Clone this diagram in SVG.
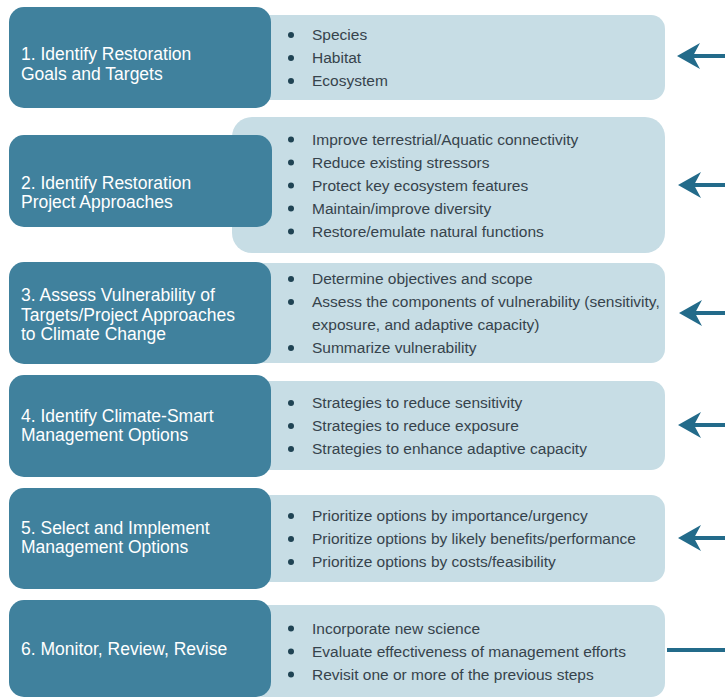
<svg xmlns="http://www.w3.org/2000/svg" width="725" height="700" viewBox="0 0 725 700">
<defs>
<style>
.dark{fill:#40819d}
.light{fill:#c7dde5}
.title{font-family:"Liberation Sans",Arial,sans-serif;font-size:17.5px;fill:#ffffff}
.item{font-family:"Liberation Sans",Arial,sans-serif;font-size:15.5px;fill:#36434c}
.dot{fill:#1f4353}
.conn{stroke:#236b8a;stroke-width:4;fill:none}
</style>
<marker id="ah" viewBox="-20 -15 30 30" refX="0" refY="0" markerWidth="30" markerHeight="30" markerUnits="userSpaceOnUse" orient="auto">
<path d="M7,0 L-16,-13 L-9,0 L-16,13 Z" fill="#236b8a"/>
</marker>
</defs>
<rect width="725" height="700" fill="#ffffff"/>

<g id="step1">
<rect class="light" x="250" y="15" width="415" height="85" rx="14"/>
<rect class="dark" x="9" y="7" width="262" height="101" rx="15"/>
<text class="title" x="21" y="60">1. Identify Restoration</text>
<text class="title" x="21" y="79.5">Goals and Targets</text>
<circle class="dot" cx="291" cy="35" r="3"/><text class="item" x="312" y="40">Species</text>
<circle class="dot" cx="291" cy="58" r="3"/><text class="item" x="312" y="63">Habitat</text>
<circle class="dot" cx="291" cy="81" r="3"/><text class="item" x="312" y="86">Ecosystem</text>
</g>

<g id="step2">
<rect class="light" x="232" y="117" width="433" height="136" rx="20"/>
<rect class="dark" x="9" y="135" width="263" height="92" rx="15"/>
<text class="title" x="21" y="188.5">2. Identify Restoration</text>
<text class="title" x="21" y="208">Project Approaches</text>
<circle class="dot" cx="291" cy="139.5" r="3"/><text class="item" x="312" y="144.5">Improve terrestrial/Aquatic connectivity</text>
<circle class="dot" cx="291" cy="162.5" r="3"/><text class="item" x="312" y="167.5">Reduce existing stressors</text>
<circle class="dot" cx="291" cy="185.5" r="3"/><text class="item" x="312" y="190.5">Protect key ecosystem features</text>
<circle class="dot" cx="291" cy="208.5" r="3"/><text class="item" x="312" y="213.5">Maintain/improve diversity</text>
<circle class="dot" cx="291" cy="231.5" r="3"/><text class="item" x="312" y="236.5">Restore/emulate natural functions</text>
</g>

<g id="step3">
<rect class="light" x="250" y="263" width="415" height="100" rx="14"/>
<rect class="dark" x="9" y="262" width="262" height="102" rx="15"/>
<text class="title" x="21" y="301">3. Assess Vulnerability of</text>
<text class="title" x="21" y="320.5">Targets/Project Approaches</text>
<text class="title" x="21" y="340">to Climate Change</text>
<circle class="dot" cx="291" cy="279" r="3"/><text class="item" x="312" y="284">Determine objectives and scope</text>
<circle class="dot" cx="291" cy="302" r="3"/><text class="item" x="312" y="307">Assess the components of vulnerability (sensitivity,</text>
<text class="item" x="312" y="330">exposure, and adaptive capacity)</text>
<circle class="dot" cx="291" cy="348" r="3"/><text class="item" x="312" y="353">Summarize vulnerability</text>
</g>

<g id="step4">
<rect class="light" x="250" y="381" width="415" height="89" rx="14"/>
<rect class="dark" x="9" y="375" width="262" height="102" rx="15"/>
<text class="title" x="21" y="421.5">4. Identify Climate-Smart</text>
<text class="title" x="21" y="441">Management Options</text>
<circle class="dot" cx="291" cy="403" r="3"/><text class="item" x="312" y="408">Strategies to reduce sensitivity</text>
<circle class="dot" cx="291" cy="426" r="3"/><text class="item" x="312" y="431">Strategies to reduce exposure</text>
<circle class="dot" cx="291" cy="449" r="3"/><text class="item" x="312" y="454">Strategies to enhance adaptive capacity</text>
</g>

<g id="step5">
<rect class="light" x="250" y="495" width="415" height="87" rx="14"/>
<rect class="dark" x="9" y="488" width="262" height="101" rx="15"/>
<text class="title" x="21" y="533.5">5. Select and Implement</text>
<text class="title" x="21" y="553">Management Options</text>
<circle class="dot" cx="291" cy="516" r="3"/><text class="item" x="312" y="521">Prioritize options by importance/urgency</text>
<circle class="dot" cx="291" cy="539" r="3"/><text class="item" x="312" y="544">Prioritize options by likely benefits/performance</text>
<circle class="dot" cx="291" cy="562" r="3"/><text class="item" x="312" y="567">Prioritize options by costs/feasibility</text>
</g>

<g id="step6">
<rect class="light" x="250" y="605" width="415" height="92" rx="14"/>
<rect class="dark" x="9" y="600" width="262" height="97" rx="15"/>
<text class="title" x="21" y="655">6. Monitor, Review, Revise</text>
<circle class="dot" cx="291" cy="628.5" r="3"/><text class="item" x="312" y="633.5">Incorporate new science</text>
<circle class="dot" cx="291" cy="651.5" r="3"/><text class="item" x="312" y="656.5">Evaluate effectiveness of management efforts</text>
<circle class="dot" cx="291" cy="674.5" r="3"/><text class="item" x="312" y="679.5">Revisit one or more of the previous steps</text>
</g>

<g id="connectors">
<path class="conn" d="M725,56 H684" marker-end="url(#ah)"/>
<path class="conn" d="M725,185 H685" marker-end="url(#ah)"/>
<path class="conn" d="M725,313 H686" marker-end="url(#ah)"/>
<path class="conn" d="M725,425 H685" marker-end="url(#ah)"/>
<path class="conn" d="M725,538 H685" marker-end="url(#ah)"/>
<path class="conn" d="M667,650 H725" stroke="#1e5a7a"/>
</g>
</svg>
